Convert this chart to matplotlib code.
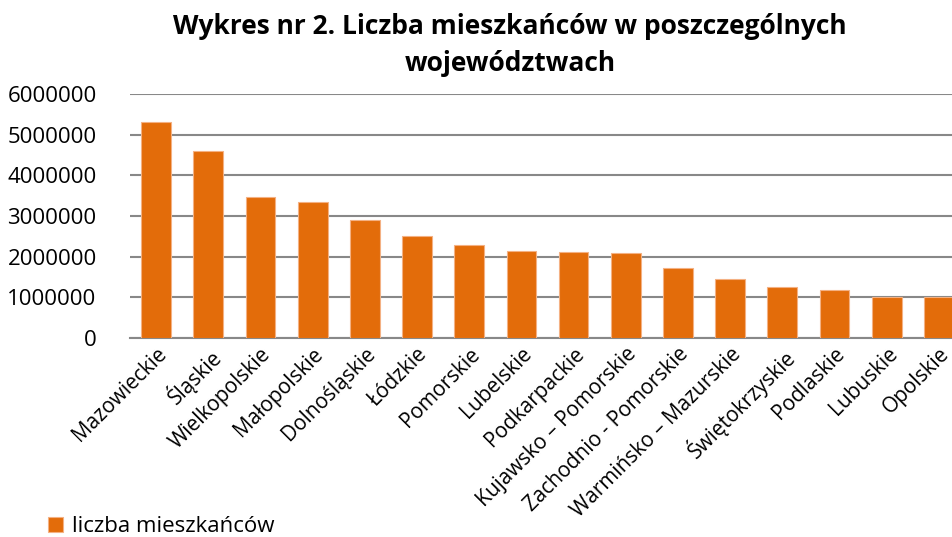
import matplotlib.pyplot as plt
import numpy as np

wojewodztwa = ['Mazowieckie', 'Śląskie', 'Wielkopolskie', 'Małopolskie', 'Dolnośląskie',
               'Łódzkie', 'Pomorskie', 'Lubelskie', 'Podkarpackie', 'Kujawsko – Pomorskie',
               'Zachodnio - Pomorskie', 'Warmińsko – Mazurskie', 'Świętokrzyskie',
               'Podlaskie', 'Lubuskie', 'Opolskie']
mieszkancy = [5300000, 4600000, 3460000, 3340000, 2910000, 2510000, 2280000, 2150000,
              2120000, 2090000, 1710000, 1440000, 1260000, 1190000, 1020000, 1000000]
yticks = [0, 1000000, 2000000, 3000000, 4000000, 5000000, 6000000]

plt.rcParams['font.family'] = ['Open Sans', 'DejaVu Sans']

fig = plt.figure(figsize=(9.52, 5.37), dpi=100)
ax = fig.add_axes([130/952, 1-338/537, 835/952, (338-94)/537])

x = np.arange(len(wojewodztwa))
ax.bar(x, mieszkancy, width=0.57, color='#E36C0A', edgecolor='#F4B183', linewidth=0.8,
       label='liczba mieszkańców', zorder=3)

ax.set_xlim(-0.5, len(wojewodztwa) - 0.5)
ax.set_ylim(0, 6000000)
ax.set_yticks(yticks)
ax.set_yticklabels([str(v) for v in yticks], fontsize=16)
ax.yaxis.grid(True, color='#888888', linewidth=1.5, zorder=0)
ax.tick_params(axis='y', length=0, pad=24)
ax.tick_params(axis='x', length=0, pad=4)
ax.set_xticks(x)
ax.set_xticklabels(wojewodztwa, rotation=45, ha='right', rotation_mode='anchor', fontsize=15)
for s in ['top', 'right', 'left']:
    ax.spines[s].set_visible(False)
ax.spines['bottom'].set_color('#888888')
ax.spines['bottom'].set_linewidth(1.5)

fig.suptitle('Wykres nr 2. Liczba mieszkańców w poszczególnych\nwojewództwach',
             x=510/952, y=0.975, fontsize=19, fontweight='bold', linespacing=1.45)

fig.legend(loc='lower left', bbox_to_anchor=(0.036, -0.025), frameon=False, fontsize=16,
           handlelength=0.7, handleheight=0.7, handletextpad=0.4, borderaxespad=0.2)

fig.savefig('out.png', dpi=100)
